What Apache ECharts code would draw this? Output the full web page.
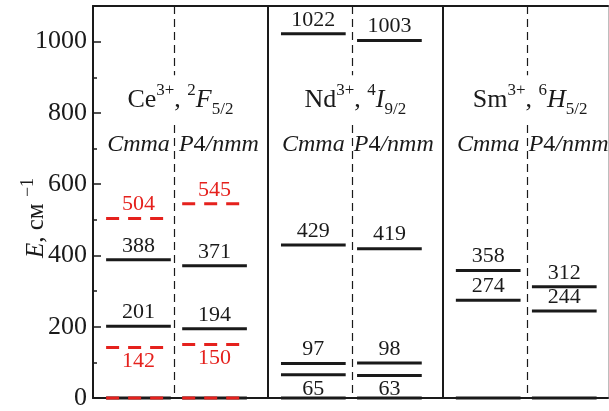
<!DOCTYPE html>
<html>
<head>
<meta charset="utf-8">
<script src="https://cdn.jsdelivr.net/npm/echarts@6/dist/echarts.min.js"></script>
<style>
  html, body { margin: 0; padding: 0; background: #fff; }
  #chart { width: 609px; height: 411px; }
</style>
</head>
<body>
<div id="chart"></div>
<script>
// panels: one per ion, two phases each
const ionTitles = [
  'Ce{sup|3+}, {sup|2}{it|F}{sub|5/2}',
  'Nd{sup|3+}, {sup|4}{it|I}{sub|9/2}',
  'Sm{sup|3+}, {sup|6}{it|H}{sub|5/2}'
]
const phaseNames = ['{it|Cmma}', '{it|P}4{it|/nmm}']

// energy levels, cm^-1 (black = solid, red = dashed)
const ceCmma = [0, 201, 388]
const ceP4 = [0, 194, 371]
const ceCmmaRed = [0, 142, 504]
const ceP4Red = [0, 150, 545]
const ndCmma = [0, 65, 97, 429, 1022]
const ndP4 = [0, 63, 98, 419, 1003]
const smCmma = [0, 274, 358]
const smP4 = [0, 244, 312]
const labelsBelow = [142, 150, 65, 63]

const yTicks = [0, 200, 400, 600, 800, 1000]

const FONT = '"Liberation Serif", "DejaVu Serif", serif'
const RED = '#e5211d'
const INK = '#1a1a1a'

// [panel, phase, energy]
const rows = (panel, phase, arr) => arr.map((e) => [panel, phase, e])
const blackLevels = [
  ...rows(0, 0, ceCmma), ...rows(0, 1, ceP4),
  ...rows(1, 0, ndCmma), ...rows(1, 1, ndP4),
  ...rows(2, 0, smCmma), ...rows(2, 1, smP4)
]
const redLevels = [...rows(0, 0, ceCmmaRed), ...rows(0, 1, ceP4Red)]

// horizontal extent of a level line inside its panel
const phaseSpan = [[0.075, 0.445], [0.51, 0.88]]
const phaseCenter = [0.26, 0.72]
const TITLE_E = 836
const PHASE_E = 710

const levelRenderer = (color, dash) => (params, api) => {
  const panel = api.value(0)
  const phase = api.value(1)
  const e = api.value(2)
  const span = phaseSpan[phase]
  const p0 = api.coord([panel + span[0], e])
  const p1 = api.coord([panel + span[1], e])
  const children = [{
    type: 'line',
    shape: { x1: p0[0], y1: p0[1], x2: p1[0], y2: p1[1] },
    style: { stroke: color, lineWidth: 3, lineDash: dash }
  }]
  if (e !== 0) {
    const below = labelsBelow.includes(e)
    children.push({
      type: 'text',
      style: {
        text: String(e),
        x: (p0[0] + p1[0]) / 2,
        y: p0[1] + (below ? 14 : -14),
        align: 'center',
        verticalAlign: 'middle',
        fontFamily: FONT,
        fontSize: 22,
        fill: color
      }
    })
  }
  return { type: 'group', children }
}

const richTitle = {
  sup: { fontSize: 17, lineHeight: 22, verticalAlign: 'top', fontFamily: FONT },
  sub: { fontSize: 17, lineHeight: 18, verticalAlign: 'bottom', fontFamily: FONT },
  it: { fontStyle: 'italic', fontSize: 26, lineHeight: 36, fontFamily: FONT }
}

const titleRenderer = (params, api) => {
  const i = params.dataIndex
  const c = api.coord([i + 0.5, TITLE_E])
  const children = [{
    type: 'text',
    style: {
      text: ionTitles[i], x: c[0], y: c[1],
      align: 'center', verticalAlign: 'middle',
      fontFamily: FONT, fontSize: 26, lineHeight: 36, fill: INK, rich: richTitle
    }
  }]
  phaseNames.forEach((name, k) => {
    const p = api.coord([i + phaseCenter[k], PHASE_E])
    children.push({
      type: 'text',
      style: {
        text: name, x: p[0], y: p[1],
        align: 'center', verticalAlign: 'middle',
        fontFamily: FONT, fontSize: 24, fill: INK,
        rich: { it: { fontStyle: 'italic', fontSize: 24, fontFamily: FONT } }
      }
    })
  })
  return { type: 'group', children }
}

const dashSegments = (x) => [
  [{ coord: [x, 1100] }, { coord: [x, 906] }],
  [{ coord: [x, 766] }, { coord: [x, 0] }]
]

const chart = echarts.init(document.getElementById('chart'))
chart.setOption({
  animation: false,
  grid: { left: 93, right: 1, top: 6, bottom: 7 },
  xAxis: [
    {
      type: 'value', min: 0, max: 2.945, position: 'bottom',
      axisLine: { onZero: false, lineStyle: { color: INK, width: 2 } },
      axisTick: { show: false }, axisLabel: { show: false }, splitLine: { show: false }
    },
    {
      type: 'value', min: 0, max: 2.945, position: 'top',
      axisLine: { onZero: false, lineStyle: { color: INK, width: 2 } },
      axisTick: { show: false }, axisLabel: { show: false }, splitLine: { show: false }
    }
  ],
  yAxis: [
    {
      type: 'value', min: 0, max: 1100, interval: 200,
      axisLine: { show: true, onZero: false, lineStyle: { color: INK, width: 2 } },
      axisTick: { show: true, inside: true, length: 8, lineStyle: { color: INK, width: 1.5 } },
      minorTick: { show: true, splitNumber: 2, length: 4, lineStyle: { color: INK, width: 1.5 } },
      axisLabel: {
        margin: 6, fontFamily: FONT, fontSize: 26, color: INK, showMaxLabel: false,
        formatter: (v) => (yTicks.includes(v) ? String(v) : '')
      },
      splitLine: { show: false }
    },
    {
      type: 'value', min: 0, max: 1100, position: 'right',
      axisLine: { show: true, onZero: false, lineStyle: { color: '#bdbdbd', width: 1 } },
      axisTick: { show: false }, axisLabel: { show: false }, splitLine: { show: false }
    }
  ],
  graphic: [{
    type: 'text', x: 36, y: 218, rotation: Math.PI / 2,
    style: {
      text: '{it|E}, см {sup|−1}',
      align: 'center', verticalAlign: 'middle',
      fontFamily: FONT, fontSize: 25, lineHeight: 34, fill: INK,
      rich: {
        it: { fontStyle: 'italic', fontSize: 25, lineHeight: 34, fontFamily: FONT },
        sup: { fontSize: 18, lineHeight: 20, verticalAlign: 'top', fontFamily: FONT }
      }
    }
  }],
  series: [
    {
      type: 'custom', name: 'frame', data: [[0]], renderItem: () => ({ type: 'group', children: [] }),
      silent: true,
      markLine: {
        symbol: 'none', silent: true, label: { show: false },
        data: [
          { xAxis: 1, lineStyle: { color: INK, width: 2, type: 'solid' } },
          { xAxis: 2, lineStyle: { color: INK, width: 2, type: 'solid' } },
          ...[0.465, 1.48, 2.485].flatMap(dashSegments).map((seg) => {
            seg[0].lineStyle = { color: INK, width: 1.2, type: [8, 5] }
            return seg
          })
        ]
      }
    },
    { type: 'custom', name: 'titles', data: ionTitles.map((t, i) => [i]), renderItem: titleRenderer, silent: true },
    { type: 'custom', name: 'levels', data: blackLevels, renderItem: levelRenderer(INK, null), silent: true },
    { type: 'custom', name: 'levelsRed', data: redLevels, renderItem: levelRenderer(RED, [13, 9]), silent: true }
  ]
})
</script>
</body>
</html>
